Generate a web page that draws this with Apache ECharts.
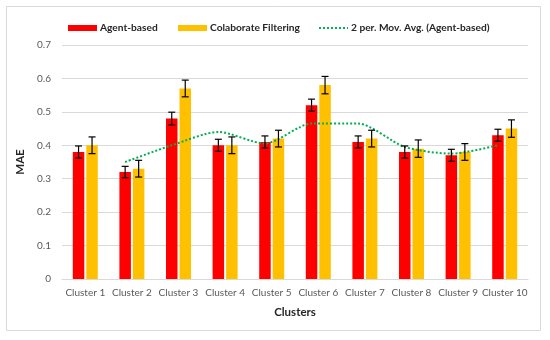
<!DOCTYPE html>
<html><head><meta charset="utf-8">
<script src="https://cdn.jsdelivr.net/npm/echarts@6/dist/echarts.min.js"></script>
<style>html,body{margin:0;padding:0;background:#fff}#c{width:550px;height:340px}</style>
</head><body><div id="c"></div>
<script>
var categories = ['Cluster 1','Cluster 2','Cluster 3','Cluster 4','Cluster 5','Cluster 6','Cluster 7','Cluster 8','Cluster 9','Cluster 10'];
var agentBased = [0.38,0.32,0.48,0.40,0.41,0.52,0.41,0.38,0.37,0.43];
var agentErr   = [0.018,0.017,0.019,0.018,0.018,0.018,0.018,0.018,0.018,0.018];
var colab      = [0.40,0.33,0.57,0.40,0.42,0.58,0.42,0.39,0.38,0.45];
var colabErr   = [0.025,0.025,0.025,0.025,0.025,0.026,0.025,0.026,0.025,0.026];
var movAvg     = [null,0.35,0.40,0.44,0.405,0.465,0.465,0.395,0.375,0.40];
var yTicks     = [0,0.1,0.2,0.3,0.4,0.5,0.6,0.7];

var W = 550, GL = 62, GR = 22, GT = 45, GB = 61;
var BW = 11.5, GAP = 2;
var band = (W - GL - GR) / categories.length;
var off = (BW + GAP) / 2;
var offFrac = off / band;

var font = 'Lato';
var chart = echarts.init(document.getElementById('c'));

function errData(vals, errs){ return vals.map(function(v,i){ return [i, v, errs[i]]; }); }
function errSeries(name, vals, errs, sign){
  return {
    type:'custom', name: name + ' err', xAxisIndex:0, yAxisIndex:0, z:5, silent:true,
    data: errData(vals, errs),
    renderItem: function(params, api){
      var i = api.value(0), v = api.value(1), e = api.value(2);
      var hi = api.coord([i, v + e]), lo = api.coord([i, v - e]);
      var x = hi[0] + sign * off, cap = 3.5;
      var st = {stroke:'#000', lineWidth:1.2};
      return {type:'group', children:[
        {type:'line', shape:{x1:x,y1:hi[1],x2:x,y2:lo[1]}, style:st},
        {type:'line', shape:{x1:x-cap,y1:hi[1],x2:x+cap,y2:hi[1]}, style:st},
        {type:'line', shape:{x1:x-cap,y1:lo[1],x2:x+cap,y2:lo[1]}, style:st}
      ]};
    }
  };
}

var legendBase = {top: 18, itemWidth: 29, itemHeight: 6, itemGap: 0,
  textStyle:{fontFamily:font, fontSize:10.2, fontWeight:'bold', color:'#262626', padding:[0,0,0,-2]}};

chart.setOption({
  animation:false,
  graphic:[{type:'rect', shape:{x:6.5,y:6.5,width:534,height:324}, style:{fill:'none', stroke:'#d9d9d9', lineWidth:1}}],
  legend:[
    Object.assign({}, legendBase, {left:63, data:[{name:'Agent-based', icon:'rect'}]}),
    Object.assign({}, legendBase, {left:173, data:[{name:'Colaborate Filtering', icon:'rect'}]}),
    Object.assign({}, legendBase, {left:313, data:[{name:'2 per. Mov. Avg. (Agent-based)', itemStyle:{opacity:0}}]})
  ],
  grid:{left:GL, right:GR, top:GT, bottom:GB},
  xAxis:[{
    type:'category', data:categories,
    axisLine:{lineStyle:{color:'#d9d9d9', width:1}}, axisTick:{show:false},
    axisLabel:{fontFamily:font, fontSize:10, color:'#595959', margin:9, interval:0},
    name:'Clusters', nameLocation:'middle', nameGap:27,
    nameTextStyle:{fontFamily:font, fontSize:11.5, fontWeight:'bold', color:'#262626'}
  },{
    type:'value', min:0, max:categories.length, show:false
  }],
  yAxis:{
    type:'value', min:yTicks[0], max:yTicks[yTicks.length-1], interval:0.1,
    axisLine:{show:false}, axisTick:{show:false},
    splitLine:{lineStyle:{color:'#d9d9d9', width:1}},
    axisLabel:{fontFamily:font, fontSize:10, color:'#595959', margin:11,
      formatter:function(v){ return String(Math.round(v*10)/10); }},
    name:'MAE', nameLocation:'middle', nameGap:31, nameRotate:90,
    nameTextStyle:{fontFamily:font, fontSize:11.5, fontWeight:'bold', color:'#262626'}
  },
  series:[
    {type:'bar', name:'Agent-based', data:agentBased, barWidth:BW, barGap:(GAP/BW*100)+'%',
      itemStyle:{color:'#ff0000'}},
    {type:'bar', name:'Colaborate Filtering', data:colab, barWidth:BW,
      itemStyle:{color:'#ffc000'}},
    errSeries('Agent-based', agentBased, agentErr, -1),
    errSeries('Colaborate Filtering', colab, colabErr, 1),
    {type:'line', name:'2 per. Mov. Avg. (Agent-based)', xAxisIndex:1, z:4,
      data: movAvg.map(function(v,i){ return v==null ? null : [i + 0.5 - offFrac, v]; }).filter(function(d){return d;}),
      symbol:'none', smooth:0.25,
      lineStyle:{color:'#00b050', width:2, type:[2,2]},
      itemStyle:{color:'#00b050'}}
  ]
});
</script></body></html>
